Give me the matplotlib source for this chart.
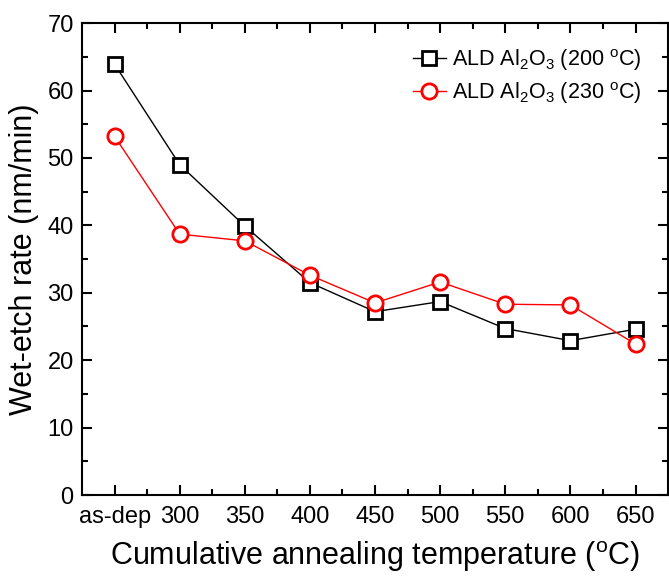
import matplotlib
matplotlib.use('Agg')
import matplotlib.pyplot as plt
from matplotlib.ticker import MultipleLocator
import numpy as np

plt.rcParams['font.family'] = ['Liberation Sans', 'DejaVu Sans']
plt.rcParams['mathtext.default'] = 'regular'

labels = ['as-dep', '300', '350', '400', '450', '500', '550', '600', '650']
rate_200 = [63.9, 49.0, 39.9, 31.5, 27.2, 28.7, 24.7, 22.9, 24.6]
rate_230 = [53.2, 38.7, 37.7, 32.6, 28.5, 31.6, 28.3, 28.2, 22.4]

x = np.arange(len(labels))

fig = plt.figure(figsize=(6.69, 5.77), dpi=100)
ax = fig.add_axes([0.1226, 0.142, 0.876, 0.818])

ax.plot(x, rate_200, color='black', lw=1, marker='s', ms=10, mfc='white',
        mec='black', mew=2, label='ALD Al$_2$O$_3$ (200 $^{o}$C)')
ax.plot(x, rate_230, color='red', lw=1, marker='o', ms=11, mfc='white',
        mec='red', mew=2, label='ALD Al$_2$O$_3$ (230 $^{o}$C)')

ax.set_xlim(-0.5, 8.5)
ax.set_ylim(0, 70)
ax.set_xticks(x)
ax.set_xticklabels(labels)
ax.set_xticks(x[:-1] + 0.5, minor=True)
ax.yaxis.set_major_locator(MultipleLocator(10))
ax.yaxis.set_minor_locator(MultipleLocator(5))
ax.tick_params(which='both', direction='in', top=True, right=True, width=1.5, labelsize=17)
ax.tick_params(which='major', length=7)
ax.tick_params(which='minor', length=4)
ax.tick_params(axis='x', which='major', pad=8)
ax.tick_params(axis='y', which='major', pad=6)
for s in ax.spines.values():
    s.set_linewidth(1.5)

ax.set_xlabel('Cumulative annealing temperature ($^{o}$C)', fontsize=22, labelpad=8)
ax.set_ylabel('Wet-etch rate (nm/min)', fontsize=22, labelpad=6)

ax.legend(loc='upper right', frameon=False, fontsize=15.5, handlelength=1.5,
          handletextpad=0.3, borderaxespad=0.7, labelspacing=0.35,
          bbox_to_anchor=(0.995, 1.0))

fig.savefig('out.png', dpi=100)
